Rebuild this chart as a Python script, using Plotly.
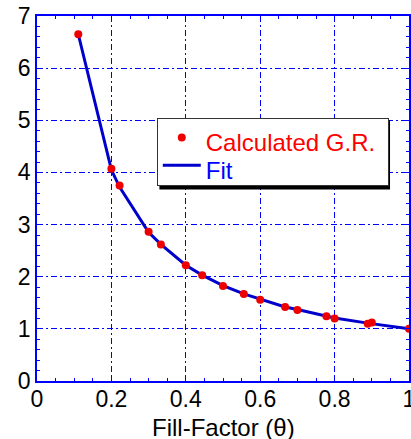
import plotly.graph_objects as go

# Data
fill_factor = [0.111, 0.2, 0.222, 0.3, 0.333, 0.4, 0.444, 0.5, 0.556, 0.6,
               0.667, 0.7, 0.778, 0.8, 0.889, 0.9, 1.0]
calc_gr = [6.65, 4.07, 3.75, 2.86, 2.62, 2.22, 2.03, 1.82, 1.67, 1.56,
           1.42, 1.36, 1.24, 1.20, 1.10, 1.12, 1.00]

fit_x = [0.111, 0.2, 0.222, 0.3, 0.333, 0.4, 0.444, 0.5, 0.556, 0.6,
         0.667, 0.7, 0.778, 0.8, 0.889, 0.9, 1.0]
fit_y = [6.65, 4.05, 3.72, 2.85, 2.62, 2.22, 2.03, 1.83, 1.67, 1.57,
         1.42, 1.37, 1.25, 1.21, 1.11, 1.10, 1.00]

x_ticks = [0, 0.2, 0.4, 0.6, 0.8, 1]
x_labels = ["0", "0.2", "0.4", "0.6", "0.8", "1"]
y_ticks = [0, 1, 2, 3, 4, 5, 6, 7]

FONT = "Liberation Sans, Arial, sans-serif"
BLUE = "#0000ff"

fig = go.Figure()
fig.add_trace(go.Scatter(
    x=fit_x, y=fit_y, mode="lines",
    name='<span style="color:#0000ff;font-size:24px;baseline-shift:-6px">Fit</span>',
    line=dict(color="#0000cc", width=3),
))
fig.add_trace(go.Scatter(
    x=fill_factor, y=calc_gr, mode="markers",
    name='<span style="color:#ff0000;font-size:24px;baseline-shift:-6px">Calculated G.R.&nbsp;</span>',
    marker=dict(color="#ee0000", size=8),
))

axis_common = dict(
    showline=True, linecolor=BLUE, linewidth=1.5, mirror="allticks",
    ticks="inside", ticklen=5, tickcolor=BLUE, tickwidth=1,
    showgrid=True, gridcolor=BLUE, gridwidth=1, griddash="6px,3px,2px,3px",
    zeroline=False, automargin=False, ticklabeloverflow="allow",
    tickfont=dict(family=FONT, size=23, color="black"),
)

fig.update_xaxes(
    range=[0, 1], tickvals=x_ticks, ticktext=x_labels, ticklabelstandoff=-3,
    minor=dict(dtick=0.05, ticks="inside", ticklen=3, tickcolor=BLUE, showgrid=False),
    **axis_common,
)
fig.update_yaxes(
    range=[0, 7], tickvals=y_ticks,
    minor=dict(dtick=0.2, ticks="inside", ticklen=3, tickcolor=BLUE, showgrid=False),
    **axis_common,
)

# x-axis title as annotation
fig.add_annotation(
    text="Fill-Factor (θ)", xref="paper", yref="paper",
    x=0.5, y=-0.127, xanchor="center", yanchor="middle", showarrow=False,
    font=dict(family=FONT, size=24, color="black"),
)

# legend shadow
fig.add_shape(type="rect", xref="paper", yref="paper",
              x0=0.329, x1=0.949, y0=0.5247, y1=0.7147,
              fillcolor="black", line=dict(width=0), layer="above")

fig.update_layout(
    width=411, height=439,
    margin=dict(l=37, r=2, t=16, b=58, autoexpand=False),
    plot_bgcolor="white", paper_bgcolor="white",
    showlegend=True,
    legend=dict(
        x=0.322, y=0.7215, xanchor="left", yanchor="top",
        bgcolor="white", bordercolor="#333333", borderwidth=1,
        font=dict(family=FONT, size=19, color="black"),
        itemwidth=38,
        traceorder="reversed",
    ),
)

fig.write_html(
    "out.html",
    config={"displayModeBar": False},
    post_script="document.body.style.margin='0';document.body.style.padding='0';",
)
